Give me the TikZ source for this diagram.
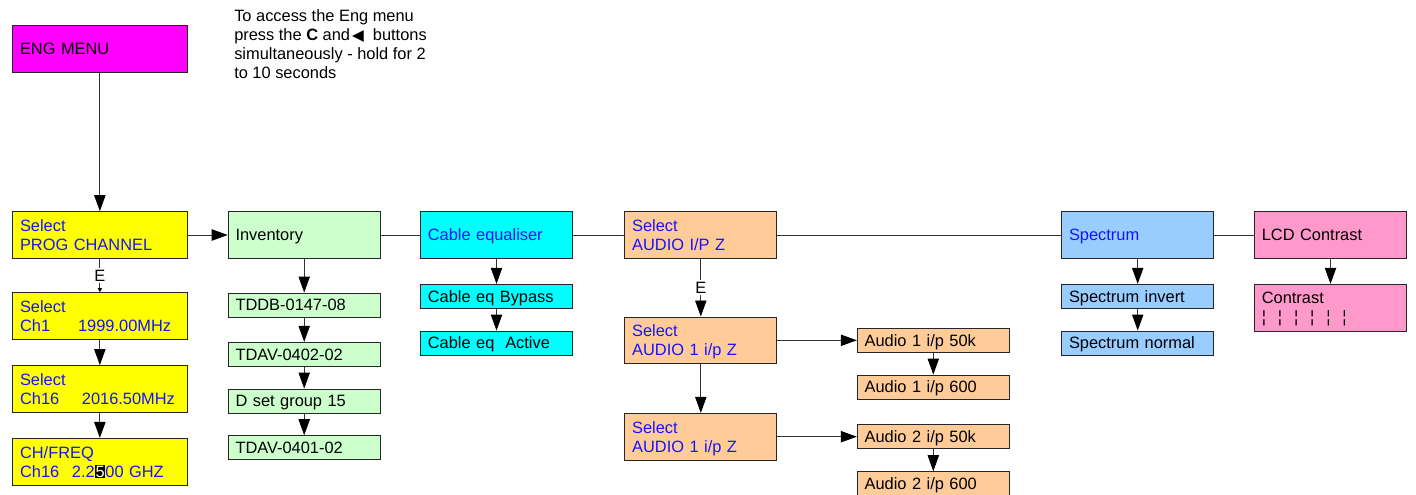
\documentclass[tikz,border=0pt]{standalone}
\usepackage{fontspec}
\setmainfont{Liberation Sans}
\newfontfamily\tipfont{DejaVu Sans}
\usetikzlibrary{arrows.meta}
\definecolor{engmagenta}{RGB}{255,0,255}
\definecolor{lcdyellow}{RGB}{255,255,0}
\definecolor{invgreen}{RGB}{204,255,204}
\definecolor{eqcyan}{RGB}{0,255,255}
\definecolor{audiopeach}{RGB}{255,204,153}
\definecolor{specblue}{RGB}{153,204,255}
\definecolor{lcdpink}{RGB}{255,153,204}
\definecolor{menutext}{RGB}{20,20,255}

\tikzset{
  menubox/.style={draw=black!85, line width=0.7pt, minimum height=35pt, text width=103pt,
    inner xsep=5.5pt, inner ysep=0pt, text depth=0pt, align=left},
  twoline/.style={text depth=14.2pt},
  itembox/.style={menubox, minimum height=18pt},
  selbox/.style={menubox, twoline, fill=lcdyellow, text=menutext, text width=119.7pt},
  link/.style={draw=black!80, line width=0.7pt},
  flow/.style={link, -{Triangle[length=12pt,width=8.5pt,color=black]}},
  ekey/.style={fill=white, inner sep=1.5pt, text=black}
}

\newcommand{\barsep}{\hspace{8.9pt}}

\begin{document}
\begin{tikzpicture}[x=0.75pt, y=-0.75pt, font=\fontsize{12.3}{14.2}\selectfont]
    \useasboundingbox (0,0) rectangle (1416,494);

    \node[anchor=north west, inner sep=0pt, align=left] (note) at (234,9.5)
        {To access the Eng menu\\press the \textbf{C} and\hspace{1.5pt}{\tipfont\fontsize{11.5}{12}\selectfont ◀}\ \ buttons\\simultaneously - hold for 2\\to 10 seconds};

    % channel select column
    \node[selbox, text depth=0pt, fill=engmagenta, text=black, minimum height=35.25pt] (eng) at (99.85,48.5) {ENG MENU};
    \node[selbox] (prog) at (99.85,235) {Select\\PROG CHANNEL};
    \node[selbox] (ch1) at (99.85,316) {Select\\Ch1\hspace{21pt}1999.00MHz};
    \node[selbox] (ch16) at (99.85,388.9) {Select\\Ch16\hspace{17pt}2016.50MHz};
    \node[selbox] (freq) at (99.85,461.7)
        {CH/FREQ\\Ch16\hspace{9.5pt}2.2{\fboxsep=0.6pt\colorbox{black}{\textcolor{white}{5}}}00 GHZ};

    % inventory
    \node[menubox, fill=invgreen] (inv) at (304.2,235) {Inventory};
    \node[itembox, fill=invgreen] (tddb) at (304.2,305) {TDDB-0147-08};
    \node[itembox, fill=invgreen] (tdavb) at (304.2,354.3) {TDAV-0402-02};
    \node[itembox, fill=invgreen] (dset) at (304.2,401) {D set group 15};
    \node[itembox, fill=invgreen] (tdava) at (304.2,447.7) {TDAV-0401-02};

    % cable equaliser
    \node[menubox, fill=eqcyan, text=menutext] (cable) at (496.5,235) {Cable equaliser};
    \node[itembox, fill=eqcyan] (bypass) at (496.5,296.3) {Cable eq Bypass};
    \node[itembox, fill=eqcyan] (active) at (496.5,343) {Cable eq\ \ Active};

    % audio input impedance
    \node[menubox, twoline, fill=audiopeach, text=menutext] (audio) at (700.8,235) {Select\\AUDIO I/P Z};
    \node[menubox, twoline, fill=audiopeach, text=menutext] (audioa) at (700.8,340.3) {Select\\AUDIO 1 i/p Z};
    \node[menubox, twoline, fill=audiopeach, text=menutext] (audiob) at (700.8,436.7) {Select\\AUDIO 1 i/p Z};
    \node[itembox, fill=audiopeach] (afifty) at (933.3,340.3) {Audio 1 i/p 50k};
    \node[itembox, fill=audiopeach] (asix) at (933.3,387) {Audio 1 i/p 600};
    \node[itembox, fill=audiopeach] (bfifty) at (933.3,436.7) {Audio 2 i/p 50k};
    \node[itembox, fill=audiopeach] (bsix) at (933.3,483.7) {Audio 2 i/p 600};

    % spectrum and contrast
    \node[menubox, fill=specblue, text=menutext] (spec) at (1137.7,235) {Spectrum};
    \node[itembox, fill=specblue] (sinv) at (1137.7,296.3) {Spectrum invert};
    \node[itembox, fill=specblue] (snorm) at (1137.7,343) {Spectrum normal};
    \node[menubox, fill=lcdpink] (lcd) at (1330.5,235) {LCD Contrast};
    \node[menubox, twoline, fill=lcdpink] (contrast) at (1330.5,307.7)
        {Contrast\\¦\barsep¦\barsep¦\barsep¦\barsep¦\barsep¦};

    % connectors
    \draw[flow] (eng) -- (prog);
    \draw[link, -{Triangle[length=3pt,width=3pt,color=black]}] (prog) -- node[ekey] {E} (ch1);
    \draw[flow] (ch1) -- (ch16);
    \draw[flow] (ch16) -- (freq);
    \draw[flow] (prog) -- (inv);
    \draw[flow] (inv) -- (tddb);
    \draw[flow] (tddb) -- (tdavb);
    \draw[flow] (tdavb) -- (dset);
    \draw[flow] (dset) -- (tdava);
    \draw[link] (inv) -- (cable);
    \draw[flow] (cable) -- (bypass);
    \draw[flow] (bypass) -- (active);
    \draw[link] (cable) -- (audio);
    \draw[flow] (audio) -- node[ekey] {E} (audioa);
    \draw[flow] (audioa) -- (audiob);
    \draw[flow] (audioa) -- (afifty);
    \draw[flow] (afifty) -- (asix);
    \draw[flow] (audiob) -- (bfifty);
    \draw[flow] (bfifty) -- (bsix);
    \draw[link] (audio) -- (spec);
    \draw[flow] (spec) -- (sinv);
    \draw[flow] (sinv) -- (snorm);
    \draw[link] (spec) -- (lcd);
    \draw[flow] (lcd) -- (contrast);
\end{tikzpicture}
\end{document}
